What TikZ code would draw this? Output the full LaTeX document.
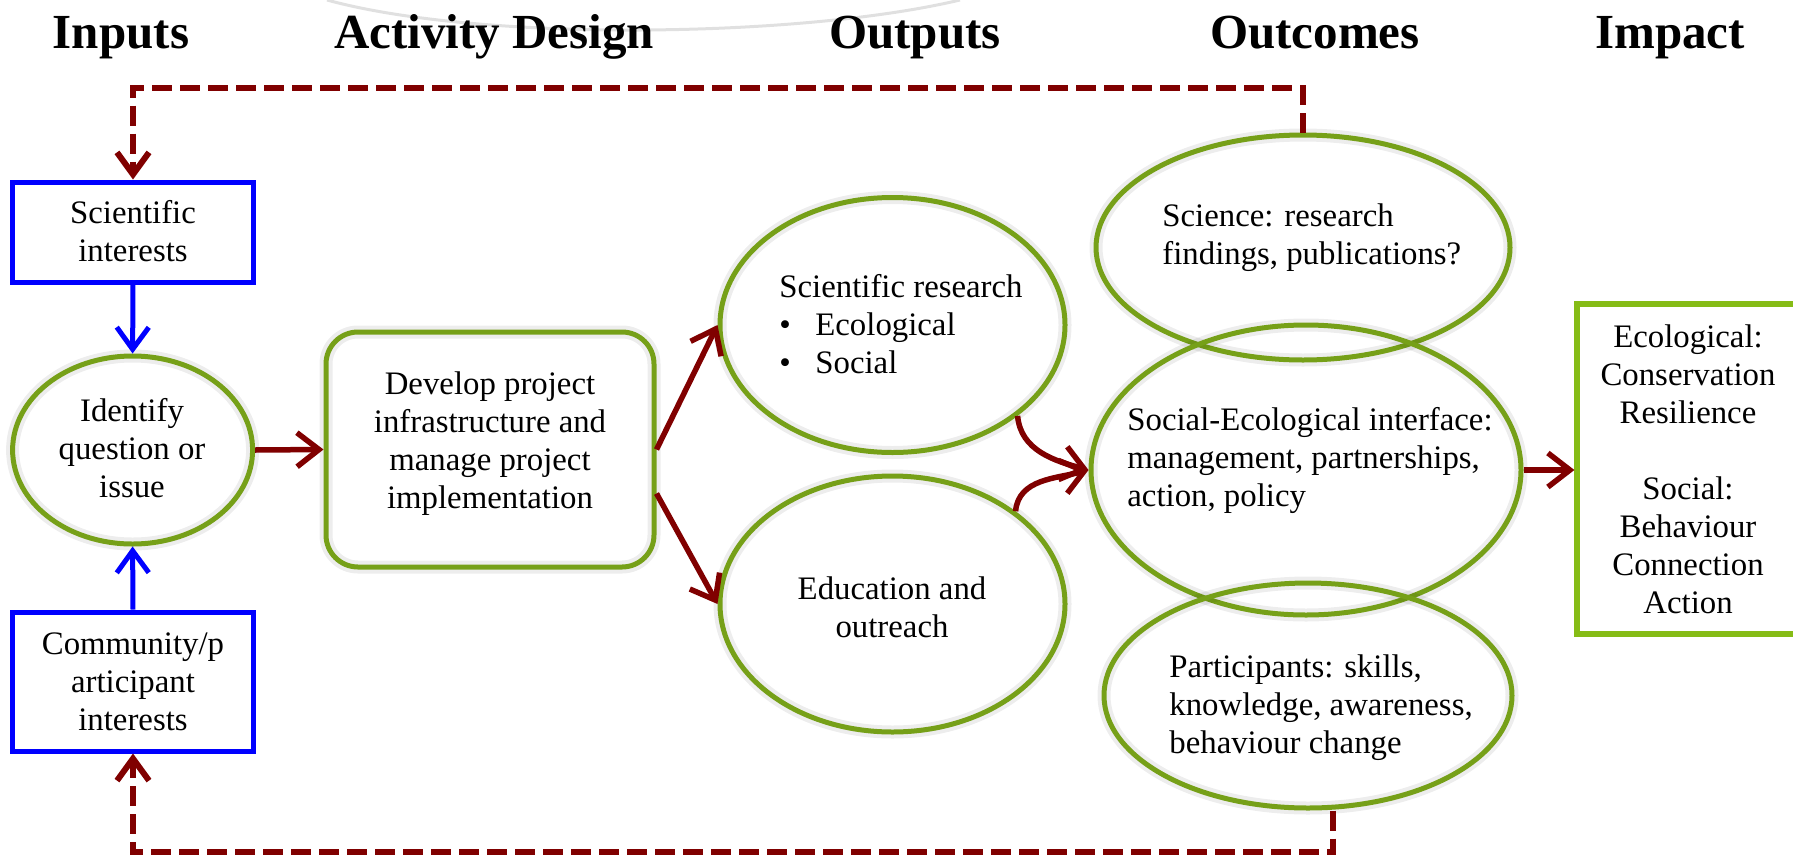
\documentclass[tikz,border=0pt]{standalone}
\usepackage{fontspec}
\setmainfont{Liberation Serif}
\usetikzlibrary{arrows.meta,shapes.geometric,calc}
\definecolor{ogreen}{RGB}{118,160,24}
\definecolor{lgreen}{RGB}{134,188,22}
\definecolor{dred}{RGB}{128,0,0}
\definecolor{pblue}{RGB}{0,0,255}
\begin{document}
\begin{tikzpicture}[x=0.5pt,y=-0.5pt,
  glow/.style={preaction={draw=black,draw opacity=0.07,line width=6.5pt}},
  gell/.style={ellipse,draw=ogreen,line width=2.5pt,inner sep=0pt,glow},
  gbox/.style={rectangle,draw=ogreen,line width=2.5pt,inner sep=0pt,glow},
  bbox/.style={rectangle,draw=pblue,line width=2.5pt,inner sep=0pt},
  ibox/.style={rectangle,draw=lgreen,line width=2.6pt,inner sep=0pt},
  ttl/.style={font=\fontsize{24.5pt}{29pt}\selectfont\bfseries,anchor=base,inner sep=0pt},
  txt/.style={font=\fontsize{16.4pt}{19pt}\selectfont,anchor=base,inner sep=0pt},
  ltxt/.style={txt,align=left,anchor=base west},
  ctxt/.style={txt,align=center},
  redarr/.style={draw=dred,line width=2.75pt,-{Straight Barb[length=11pt,width=17pt]}},
  bluearr/.style={draw=pblue,line width=2.5pt,-{Straight Barb[length=11pt,width=16pt]}},
  fback/.style={draw=dred,line width=3pt,dash pattern=on 10pt off 4pt,-{Straight Barb[length=11pt,width=16pt]}}
]
\useasboundingbox (0,0) rectangle (1793,857);
% faint background arc
\draw[black!12,line width=1.5pt] (327,0) .. controls (480,42) and (800,38) .. (960,0);

% titles
\node[ttl] (h1) at (121,48) {Inputs};
\node[ttl] (h2) at (494,48) {Activity Design};
\node[ttl] (h3) at (915,48) {Outputs};
\node[ttl] (h4) at (1315,48) {Outcomes};
\node[ttl] (h5) at (1670,48) {Impact};

% shapes
\node[bbox,minimum width=120.5pt,minimum height=50pt] (sci) at (133,232) {};
\node[gell,minimum width=120pt,minimum height=94pt] (ident) at (132.6,450) {};
\node[bbox,minimum width=120.5pt,minimum height=69.5pt] (comm) at (133,681.5) {};
\node[gbox,minimum width=164pt,minimum height=117.5pt,rounded corners=16pt] (dev) at (490,449.5) {};
\node[gell,minimum width=172.5pt,minimum height=127.5pt] (sres) at (892.5,325) {};
\node[gell,minimum width=172.5pt,minimum height=128pt] (edu) at (892.5,604) {};
\node[gell,minimum width=207pt,minimum height=112.5pt] (science) at (1303,247.5) {};
\node[gell,minimum width=215pt,minimum height=145pt] (soceco) at (1306,470) {};
\node[gell,minimum width=204pt,minimum height=112.5pt] (part) at (1308,695.5) {};
\node[ibox,minimum width=116.5pt,minimum height=165pt] (impact) at (1693.5,469) {};

% texts (y = baseline of the last line)
\node[ctxt] (sci-t) at (133,261) {Scientific\\interests};
\node[ctxt] (ident-t) at (132,497) {Identify\\question or\\issue};
\node[ctxt] (comm-t) at (133,730) {Community/p\\articipant\\interests};
\node[ctxt] (dev-t) at (490,508) {Develop project\\infrastructure and\\manage project\\implementation};
\node[ltxt] (sres-t) at (779,373) {Scientific research\\\makebox[18pt][l]{\textbullet}Ecological\\\makebox[18pt][l]{\textbullet}Social};
\node[ctxt] (edu-t) at (892,637) {Education and\\outreach};
\node[ltxt] (science-t) at (1162,264) {Science: research\\findings, publications?};
\node[ltxt] (soceco-t) at (1127,506) {Social-Ecological interface:\\management, partnerships,\\action, policy};
\node[ltxt] (part-t) at (1169,753) {Participants: skills,\\knowledge, awareness,\\behaviour change};
\node[ctxt] (impact-t) at (1688,613) {Ecological:\\Conservation\\Resilience\\[19pt]Social:\\Behaviour\\Connection\\Action};

% helper coordinates for feedback loops
\coordinate (topy) at (0,88);
\coordinate (boty) at (0,852);

% connectors
\draw[bluearr] (sci.south) -- (ident.north);
\draw[bluearr] (comm.north) -- (ident.south);
\draw[redarr] (ident.east) -- (dev.west);
\draw[redarr] (dev.east) -- (sres.west);
\draw[redarr] ([yshift=-22pt]dev.east) -- (edu.west);
\draw[redarr] (sres.-36) to[out=-85,in=165] (soceco.west);
\draw[redarr] (edu.37) to[out=85,in=-165] (soceco.west);
\draw[redarr] (soceco.east) -- (soceco.east -| impact.west);
\draw[fback] (science.north) |- (sci.north |- topy) -- (sci.north);
\draw[fback] ([xshift=12.5pt]part.south) |- (comm.south |- boty) -- (comm.south);
\end{tikzpicture}
\end{document}
